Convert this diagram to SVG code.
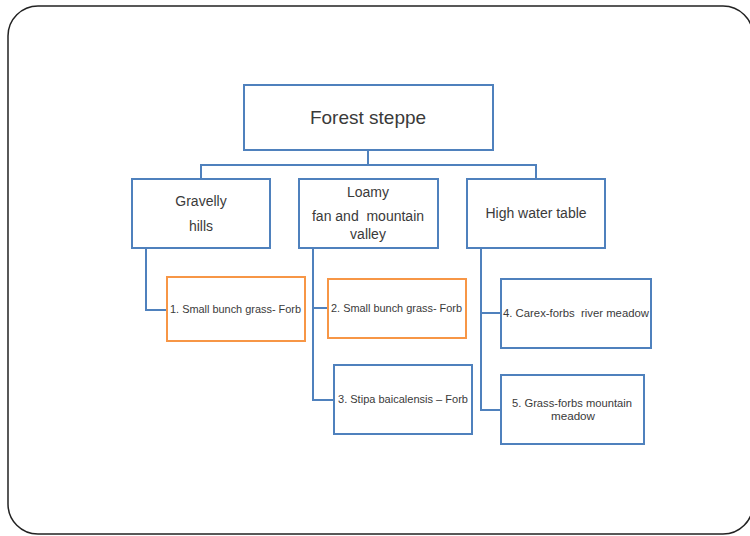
<svg xmlns="http://www.w3.org/2000/svg" width="750" height="536" viewBox="0 0 750 536">
<style>
.frame{fill:#fff;stroke:#222;stroke-width:1.5}
.b{fill:#fff;stroke:#4f81bd;stroke-width:2}
.o{fill:#fff;stroke:#f79646;stroke-width:2}
.c{fill:none;stroke:#4f81bd;stroke-width:2}
text{font-family:"Liberation Sans",Arial,sans-serif;fill:#3a3a3a}
.t1{font-size:19px}
.t2{font-size:14px}
.t3{font-size:11.5px}
</style>
<rect class="frame" x="8" y="6" width="745" height="528" rx="30" ry="30"/>
<g id="connectors">
<path class="c" d="M368 150V165M201 179V165H536V179"/>
<path class="c" d="M146 248V310H167"/>
<path class="c" d="M313 248V400H334M313 308H328"/>
<path class="c" d="M481 248V410H501M481 313H501"/>
</g>
<g id="n0"><rect class="b" x="244" y="85" width="249" height="65"/><text class="t1" x="368" y="124" text-anchor="middle">Forest steppe</text></g>
<g id="n1"><rect class="b" x="132" y="179" width="138" height="69"/><text class="t2" x="201" y="206" text-anchor="middle">Gravelly</text><text class="t2" x="201" y="231" text-anchor="middle">hills</text></g>
<g id="n2"><rect class="b" x="299" y="179" width="139" height="69"/><text class="t2" x="368" y="197" text-anchor="middle">Loamy</text><text class="t2" x="368" y="221" text-anchor="middle">fan and&#160; mountain</text><text class="t2" x="368" y="239" text-anchor="middle">valley</text></g>
<g id="n3"><rect class="b" x="467" y="179" width="138" height="69"/><text class="t2" x="536" y="218" text-anchor="middle">High water table</text></g>
<g id="n4"><rect class="o" x="167" y="277" width="138" height="64"/><text class="t3" x="170" y="313" textLength="131" lengthAdjust="spacingAndGlyphs">1. Small bunch grass- Forb</text></g>
<g id="n5"><rect class="o" x="328" y="279" width="138" height="59"/><text class="t3" x="331" y="312" textLength="131" lengthAdjust="spacingAndGlyphs">2. Small bunch grass- Forb</text></g>
<g id="n6"><rect class="b" x="334" y="365" width="138" height="69"/><text class="t3" x="338" y="403" textLength="130" lengthAdjust="spacingAndGlyphs">3. Stipa baicalensis – Forb</text></g>
<g id="n7"><rect class="b" x="501" y="279" width="150" height="69"/><text class="t3" x="503" y="317" textLength="146" lengthAdjust="spacingAndGlyphs">4. Carex-forbs&#160; river meadow</text></g>
<g id="n8"><rect class="b" x="501" y="375" width="143" height="69"/><text class="t3" x="512" y="407" textLength="120" lengthAdjust="spacingAndGlyphs">5. Grass-forbs mountain</text><text class="t3" x="551" y="420" textLength="44" lengthAdjust="spacingAndGlyphs">meadow</text></g>
</svg>
